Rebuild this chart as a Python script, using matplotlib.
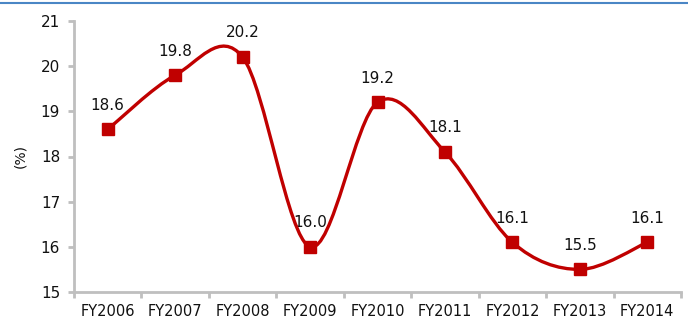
import matplotlib
matplotlib.use("Agg")
import matplotlib.pyplot as plt
from matplotlib.path import Path
from matplotlib.patches import PathPatch
from matplotlib.lines import Line2D
import numpy as np

categories = ["FY2006", "FY2007", "FY2008", "FY2009", "FY2010", "FY2011", "FY2012", "FY2013", "FY2014"]
values = [18.6, 19.8, 20.2, 16.0, 19.2, 18.1, 16.1, 15.5, 16.1]
labels = ["18.6", "19.8", "20.2", "16.0", "19.2", "18.1", "16.1", "15.5", "16.1"]
yticks = [15, 16, 17, 18, 19, 20, 21]

RED = "#C00000"
GRAY = "#BFBFBF"
TXT = "#111111"

fig = plt.figure(figsize=(6.88, 3.22), dpi=100)
ax = fig.add_axes([74/688, 30/322, (681-74)/688, (292-21)/322])

x = np.arange(len(values))
y = np.array(values)

# Excel-like smoothed line via cubic Bezier segments
verts = [(x[0], y[0])]
codes = [Path.MOVETO]
n = len(x)
for i in range(n - 1):
    p0 = np.array([x[max(i-1, 0)], y[max(i-1, 0)]])
    p1 = np.array([x[i], y[i]])
    p2 = np.array([x[i+1], y[i+1]])
    p3 = np.array([x[min(i+2, n-1)], y[min(i+2, n-1)]])
    c1 = p1 + (p2 - p0) / 6.0
    c2 = p2 - (p3 - p1) / 6.0
    verts += [tuple(c1), tuple(c2), tuple(p2)]
    codes += [Path.CURVE4] * 3
patch = PathPatch(Path(verts, codes), facecolor="none", edgecolor=RED, lw=2.4,
                  transform=ax.transData, zorder=2, capstyle="round", joinstyle="round")
ax.add_patch(patch)
ax.plot(x, y, linestyle="none", marker="s", markersize=8.5, color=RED, zorder=3)

for xi, yi, lab in zip(x, y, labels):
    ax.annotate(lab, (xi, yi), xytext=(0, 12), textcoords="offset points",
                ha="center", va="bottom", fontsize=11, color=TXT, zorder=1)

ax.set_xlim(-0.5, n - 0.5)
ax.set_ylim(15, 21)
ax.set_yticks(yticks)
ax.set_yticklabels([str(t) for t in yticks])
ax.set_xticks(x)
ax.set_xticklabels(categories)
ax.set_xticks(np.arange(-0.5, n, 1.0), minor=True)
ax.tick_params(axis="x", which="major", length=0, pad=9, labelsize=10.5, labelcolor=TXT)
ax.tick_params(axis="x", which="minor", length=4, width=2, color=GRAY)
ax.tick_params(axis="y", length=4, width=2, color=GRAY, labelsize=11, labelcolor=TXT, pad=6)

for s in ["top", "right"]:
    ax.spines[s].set_visible(False)
for s in ["left", "bottom"]:
    ax.spines[s].set_color(GRAY)
    ax.spines[s].set_linewidth(2)

ax.set_ylabel("(%)", fontsize=10, color=TXT, labelpad=10)

fig.add_artist(Line2D([0, 1], [1 - 3/322, 1 - 3/322], transform=fig.transFigure,
                      color="#4A86C5", lw=1.5))

fig.savefig("out.png", dpi=100)
